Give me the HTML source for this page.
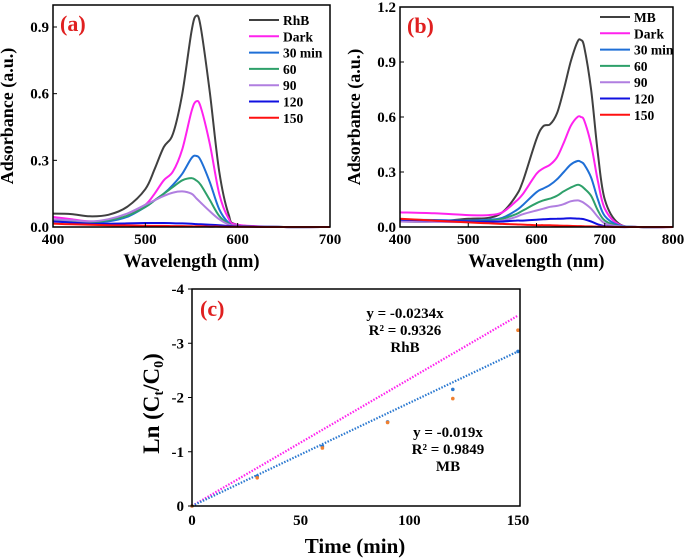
<!DOCTYPE html>
<html><head><meta charset="utf-8"><style>
body{margin:0;background:#fff;}
svg{display:block;font-family:"Liberation Serif",serif;font-weight:bold;}
</style></head><body>
<svg id="fig" width="685" height="558" viewBox="0 0 685 558"></svg>
<script>
// Panel (a) data
const aWave=[400,420,440,460,480,500,510,520,530,540,550,555,560,570,580,590,600,650,700];
const aNames=["RhB","Dark","30 min","60","90","120","150"];
const aRhB=[.06,.058,.048,.055,.09,.17,.26,.36,.42,.60,.88,.95,.90,.60,.25,.06,.01,0,0];
const aDark=[.045,.035,.025,.03,.05,.10,.15,.21,.25,.35,.52,.565,.54,.37,.15,.04,.01,0,0];
const a30=[.03,.025,.02,.025,.045,.09,.12,.15,.19,.24,.31,.32,.30,.20,.08,.02,.005,0,0];
const a60=[.03,.025,.02,.03,.05,.09,.12,.15,.18,.21,.22,.21,.19,.12,.05,.015,.005,0,0];
const a90=[.035,.03,.025,.035,.06,.10,.12,.14,.155,.16,.15,.13,.11,.07,.035,.012,.005,0,0];
const a120=[.025,.02,.015,.015,.016,.018,.018,.018,.017,.016,.015,.013,.012,.01,.008,.005,.003,0,0];
const a150=[.015,.012,.01,.008,.007,.006,.005,.005,.004,.004,.003,.003,.003,.002,.002,.001,.001,0,0];
// Panel (b) data
const bWave=[400,450,500,530,550,570,580,600,610,620,630,640,650,660,665,670,680,690,700,720,750,800];
const bNames=["MB","Dark","30 min","60","90","120","150"];
const bMB=[.03,.03,.045,.05,.08,.17,.25,.48,.55,.56,.62,.75,.90,1.01,1.02,.98,.75,.40,.15,.02,0,0];
const bDark=[.08,.075,.065,.065,.08,.14,.18,.29,.32,.34,.38,.46,.55,.60,.60,.58,.45,.25,.10,.015,0,0];
const b30=[.04,.038,.035,.04,.05,.09,.12,.19,.21,.23,.26,.30,.34,.36,.355,.34,.27,.15,.06,.01,0,0];
const b60=[.035,.032,.03,.035,.045,.07,.09,.13,.145,.155,.17,.195,.215,.23,.225,.21,.17,.09,.035,.005,0,0];
const b90=[.03,.028,.027,.03,.035,.055,.07,.09,.10,.11,.115,.125,.14,.145,.14,.13,.10,.055,.02,.003,0,0];
const b120=[.04,.035,.03,.03,.03,.035,.035,.04,.042,.044,.045,.046,.048,.046,.045,.042,.03,.015,.005,0,0,0];
const b150=[.045,.035,.025,.02,.017,.014,.013,.01,.01,.009,.008,.007,.006,.005,.005,.004,.003,.002,.001,0,0,0];
const colors=["#404040","#ff22ee","#1f6fd6","#2ea06a","#b07ee0","#1010e0","#ff1010"];
const aTicksX=[400,500,600,700], aTicksY=[0,0.3,0.6,0.9];
const bTicksX=[400,500,600,700,800], bTicksY=[0,0.3,0.6,0.9,1.2];
// Panel (c) data
const cTime=[0,30,60,90,120,150];
const cRhB=[0,-0.52,-1.07,-1.54,-1.98,-3.24];
const cMB=[0,-0.55,-1.1,-1.55,-2.15,-2.85];
const cSlopes=[-0.0234,-0.019];
const cTicksX=[0,50,100,150], cTicksY=[0,-1,-2,-3,-4];

const svg=document.getElementById('fig');
const NS="http://www.w3.org/2000/svg";
function mk(tag,attrs,parent){const e=document.createElementNS(NS,tag);for(const k in attrs)e.setAttribute(k,attrs[k]);(parent||svg).appendChild(e);return e;}
function txt(s,attrs,parent){const e=mk('text',attrs,parent);e.textContent=s;return e;}
function smooth(pts){let d="M"+pts[0][0]+","+pts[0][1];for(let i=0;i<pts.length-1;i++){const p0=pts[i-1]||pts[i],p1=pts[i],p2=pts[i+1],p3=pts[i+2]||p2;const c1=[p1[0]+(p2[0]-p0[0])/6,p1[1]+(p2[1]-p0[1])/6],c2=[p2[0]-(p3[0]-p1[0])/6,p2[1]-(p3[1]-p1[1])/6];d+=` C${c1[0].toFixed(1)},${c1[1].toFixed(1)} ${c2[0].toFixed(1)},${c2[1].toFixed(1)} ${p2[0].toFixed(1)},${p2[1].toFixed(1)}`;}return d;}

function spectrum(id,x0,x1,y0,y1,dmin,dmax,vmax,ytop,wave,series,names,ticksX,ticksY,lgX,lgY,lgStep,label,labelX){
  const g=mk('g',{});  
  const X=v=>x0+(v-dmin)/(dmax-dmin)*(x1-x0);
  const Y=v=>y0-(v/vmax)*(y0-y1);
  series.forEach((s,i)=>{const p=mk('path',{d:smooth(wave.map((w,j)=>[X(w),Y(s[j])])),fill:'none',stroke:colors[i],'stroke-width':2},g);
    });
  const box=mk('rect',{x:x0,y:ytop,width:x1-x0,height:y0-ytop,fill:'none',stroke:'#000','stroke-width':1.5},g);
  
  ticksX.forEach(t=>{mk('line',{x1:X(t),x2:X(t),y1:y0,y2:y0-4,stroke:'#000'},g);
    const e=txt(String(t),{x:X(t),y:y0+17,'font-size':15,'text-anchor':'middle'},g);});
  ticksY.forEach(t=>{mk('line',{x1:x0,x2:x0+4,y1:Y(t),y2:Y(t),stroke:'#000'},g);
    const e=txt(t.toFixed(1),{x:x0-4,y:Y(t)+5,'font-size':15,'text-anchor':'end'},g);});
  names.forEach((n,i)=>{const y=lgY+i*lgStep;
    const l=mk('line',{x1:lgX,x2:lgX+30,y1:y,y2:y,stroke:colors[i],'stroke-width':2},g);
    const e=txt(n,{x:lgX+34,y:y+5,'font-size':13.5},g);});
  const lb=txt(label,{x:labelX,y:ytop+26,'font-size':22,fill:'#e02020'},g);
  const xt=txt('Wavelength (nm)',{x:(x0+x1)/2,y:y0+40,'font-size':18.5,'text-anchor':'middle'},g);
  const yt=txt('Adsorbance (a.u.)',{x:0,y:0,'font-size':18,'text-anchor':'middle',transform:`translate(${x0-40},${(y0+ytop)/2}) rotate(-90)`},g);
}
spectrum('a',53,330,227,27,400,700,0.9,5,aWave,[aRhB,aDark,a30,a60,a90,a120,a150],aNames,aTicksX,aTicksY,249,20,16.3,'(a)',60);
spectrum('b',400,673,227,7,400,800,1.2,7,bWave,[bMB,bDark,b30,b60,b90,b120,b150],bNames,bTicksX,bTicksY,600,17,16.3,'(b)',407);

// Panel (c)
(function(){
  const x0=192,x1=518,y0=506,y1=289;
  const g=mk('g',{});
  const X=v=>x0+v/150*(x1-x0), Y=v=>y0+v/4*(y0-y1);
  const lc=['#ff22ee','#2a78d0'];
  cSlopes.forEach((s,i)=>{const l=mk('line',{x1:X(0),y1:Y(0),x2:X(150),y2:Y(s*150),stroke:lc[i],'stroke-width':2.2,'stroke-dasharray':'1.5 1.5'},g);
    });
  cTime.forEach((t,i)=>{const a=mk('circle',{cx:X(t),cy:Y(cMB[i]),r:1.8,fill:'#2a78d0'},g);
    const b=mk('circle',{cx:X(t),cy:Y(cRhB[i]),r:1.8,fill:'#f08030'},g);});
  const box=mk('path',{d:`M${x0},${y1} H${x1+2} V${y0} H${x0} Z`,fill:'none',stroke:'#000','stroke-width':1.5},g);
  cTicksX.forEach(t=>{const e=txt(String(t),{x:X(t),y:y0+19,'font-size':15,'text-anchor':'middle'},g);});
  cTicksY.forEach(t=>{mk('line',{x1:x0-4,x2:x0,y1:Y(t),y2:Y(t),stroke:'#000'},g);
    const e=txt(String(t),{x:x0-8,y:Y(t)+5,'font-size':15,'text-anchor':'end'},g);});
  const lb=txt('(c)',{x:200,y:316,'font-size':22,fill:'#e02020'},g);
  [['y = -0.0234x',318],['R² = 0.9326',335],['RhB',352]].forEach(([s,y])=>{const e=txt(s,{x:405,y:y,'font-size':15,'text-anchor':'middle'},g);});
  [['y = -0.019x',437],['R² = 0.9849',454],['MB',471]].forEach(([s,y])=>{const e=txt(s,{x:448,y:y,'font-size':15,'text-anchor':'middle'},g);});
  const xt=txt('Time (min)',{x:(x0+x1)/2,y:y0+47,'font-size':21,'text-anchor':'middle'},g);
  const yt=mk('text',{'font-size':23,'text-anchor':'middle',transform:`translate(${x0-33},${(y0+y1)/2+6}) rotate(-90)`},g);
  yt.innerHTML='Ln (C<tspan font-size="14" dy="4">t</tspan><tspan dy="-4">/C</tspan><tspan font-size="14" dy="4">0</tspan><tspan dy="-4">)</tspan>';
  
})();
</script>
</body></html>
